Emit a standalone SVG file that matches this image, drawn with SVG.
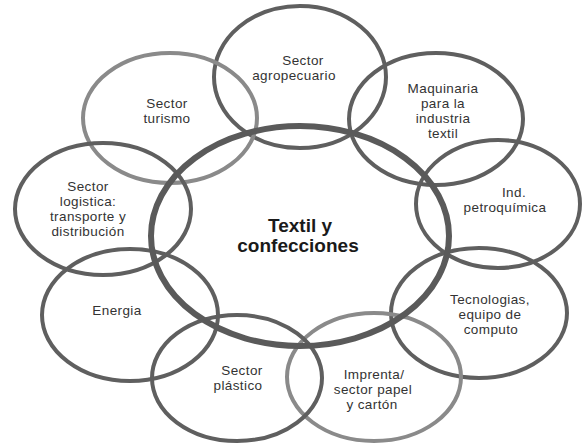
<svg xmlns="http://www.w3.org/2000/svg" width="585" height="443" viewBox="0 0 585 443">
<style>
.e{fill:none;stroke:#5f5f5f;stroke-width:4}
.l{stroke:#8a8a8a}
.c{fill:none;stroke:#5a5a5a;stroke-width:6}
.t{font-family:"Liberation Sans",Arial,sans-serif;font-size:13.5px;letter-spacing:0.4px;fill:#333;text-anchor:middle}
.m{font-family:"Liberation Sans",Arial,sans-serif;font-size:19px;font-weight:bold;fill:#1a1a1a;text-anchor:middle}
</style>
<rect width="585" height="443" fill="#fff"/>
<g id="agropecuario"><ellipse class="e" cx="300" cy="77" rx="86" ry="71"/><text class="t" x="303" y="65">Sector</text><text class="t" x="294" y="80">agropecuario</text></g>
<g id="turismo"><ellipse class="e l" cx="170" cy="118" rx="87" ry="65"/><text class="t" x="167" y="108">Sector</text><text class="t" x="167" y="123">turismo</text></g>
<g id="maquinaria"><ellipse class="e" cx="436" cy="119" rx="87" ry="66"/><text class="t" x="443" y="93">Maquinaria</text><text class="t" x="443" y="108">para la</text><text class="t" x="443" y="123">industria</text><text class="t" x="443" y="138">textil</text></g>
<g id="petroquimica"><ellipse class="e" cx="498" cy="204" rx="82" ry="64"/><text class="t" x="514" y="197">Ind.</text><text class="t" x="505" y="212">petroquímica</text></g>
<g id="tecnologias"><ellipse class="e" cx="479" cy="313" rx="88" ry="65"/><text class="t" x="490" y="304">Tecnologias,</text><text class="t" x="490" y="319">equipo de</text><text class="t" x="491" y="334">computo</text></g>
<g id="imprenta"><ellipse class="e l" cx="374" cy="377" rx="87" ry="64"/><text class="t" x="374" y="379">Imprenta/</text><text class="t" x="373" y="394">sector papel</text><text class="t" x="372" y="409">y cartón</text></g>
<g id="plastico"><ellipse class="e" cx="237" cy="378" rx="85" ry="63"/><text class="t" x="242" y="375">Sector</text><text class="t" x="238" y="390">plástico</text></g>
<g id="energia"><ellipse class="e" cx="130" cy="315" rx="88" ry="66"/><text class="t" x="117" y="315">Energia</text></g>
<g id="logistica"><ellipse class="e" cx="103" cy="209" rx="88" ry="66"/><text class="t" x="88" y="191">Sector</text><text class="t" x="88" y="206">logistica:</text><text class="t" x="88" y="221">transporte y</text><text class="t" x="88" y="236">distribución</text></g>
<g id="textil"><ellipse class="c" cx="300" cy="236" rx="149" ry="110"/><text class="m" x="300" y="232">Textil y</text><text class="m" x="298" y="252">confecciones</text></g>
<g id="connectors"></g>
</svg>
